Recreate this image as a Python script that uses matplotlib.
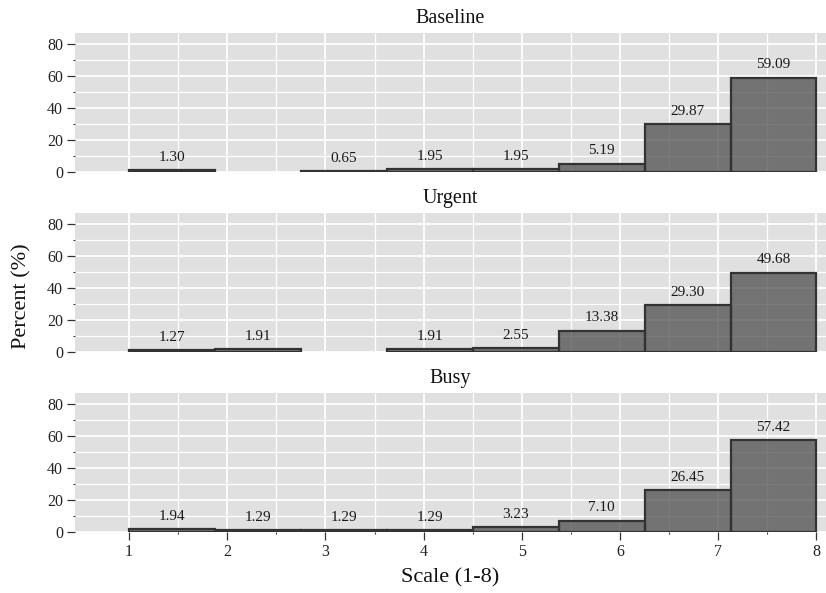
import numpy as np
import matplotlib
matplotlib.use("Agg")
import matplotlib.pyplot as plt
from matplotlib.ticker import FixedLocator

plt.rcParams['font.family'] = ['Liberation Serif', 'DejaVu Serif']

# Histogram bins span the 1-8 scale in eight equal-width bins
bin_edges = np.linspace(1, 8, 9)

conditions = ["Baseline", "Urgent", "Busy"]
baseline_pct = [1.30, 0.00, 0.65, 1.95, 1.95, 5.19, 29.87, 59.09]
urgent_pct = [1.27, 1.91, 0.00, 1.91, 2.55, 13.38, 29.30, 49.68]
busy_pct = [1.94, 1.29, 1.29, 1.29, 3.23, 7.10, 26.45, 57.42]
series = [baseline_pct, urgent_pct, busy_pct]

y_ticks = [0, 20, 40, 60, 80]
y_minor = [10, 30, 50, 70]
x_ticks = [1, 2, 3, 4, 5, 6, 7, 8]
x_minor = [1.5, 2.5, 3.5, 4.5, 5.5, 6.5, 7.5]

W, H = 826, 593
fig = plt.figure(figsize=(W / 100, H / 100), dpi=100)

panel_px = [(33, 172), (213, 352), (393, 532)]
left_px, right_px = 75, 826

bg = "#e0e0e0"
for i, (name, vals, (top, bot)) in enumerate(zip(conditions, series, panel_px)):
    ax = fig.add_axes([left_px / W, 1 - bot / H, (right_px - left_px) / W, (bot - top) / H])
    ax.set_facecolor(bg)
    for s in ax.spines.values():
        s.set_visible(False)
    ax.set_axisbelow(True)

    vals = np.asarray(vals)
    lefts = bin_edges[:-1]
    widths = np.diff(bin_edges)
    keep = vals > 0
    ax.bar(lefts[keep], vals[keep], width=widths[keep], align="edge",
           color="#555555", alpha=0.78, linewidth=0)
    # opaque outlines on top of the translucent fill
    ax.bar(lefts[keep], vals[keep], width=widths[keep], align="edge",
           fill=False, edgecolor="#333333", linewidth=1.6)

    for x0, w, v in zip(lefts[keep], widths[keep], vals[keep]):
        ax.annotate(f"{v:.2f}", xy=(x0 + w / 2, v), xytext=(0, 4.5),
                    textcoords="offset points", ha="center", va="bottom",
                    fontsize=11, color="#1a1a1a")

    ax.set_xlim(0.45, 8.097)
    ax.set_ylim(0, 87.1)

    ax.yaxis.set_major_locator(FixedLocator(y_ticks))
    ax.yaxis.set_minor_locator(FixedLocator(y_minor))
    ax.xaxis.set_major_locator(FixedLocator(x_ticks))
    ax.xaxis.set_minor_locator(FixedLocator(x_minor))

    ax.grid(which="major", color="white", linewidth=1.3)
    ax.grid(which="minor", color="white", linewidth=0.9)

    ax.tick_params(axis="y", which="major", length=6, width=0.9, color="#333333",
                   labelsize=11.5, labelcolor="#222222", pad=2.5)
    ax.tick_params(axis="y", which="minor", length=1.5, width=0.8, color="#333333")

    if i < 2:
        ax.tick_params(axis="x", which="both", bottom=False, labelbottom=False)
    else:
        ax.tick_params(axis="x", which="major", length=6, width=0.9, color="#333333",
                       labelsize=11.5, labelcolor="#222222", pad=2.5)
        ax.tick_params(axis="x", which="minor", length=1.5, width=0.8, color="#333333")

    ax.set_title(name, fontsize=14.5, pad=7, color="#111111")

fig.text(22 / W, 1 - 296 / H, "Percent (%)", rotation=90, ha="center", va="center",
         fontsize=16, color="#111111")
fig.text(450 / W, 1 - 578 / H, "Scale (1-8)", ha="center", va="center",
         fontsize=16, color="#111111")

fig.savefig("out.png", dpi=100)
